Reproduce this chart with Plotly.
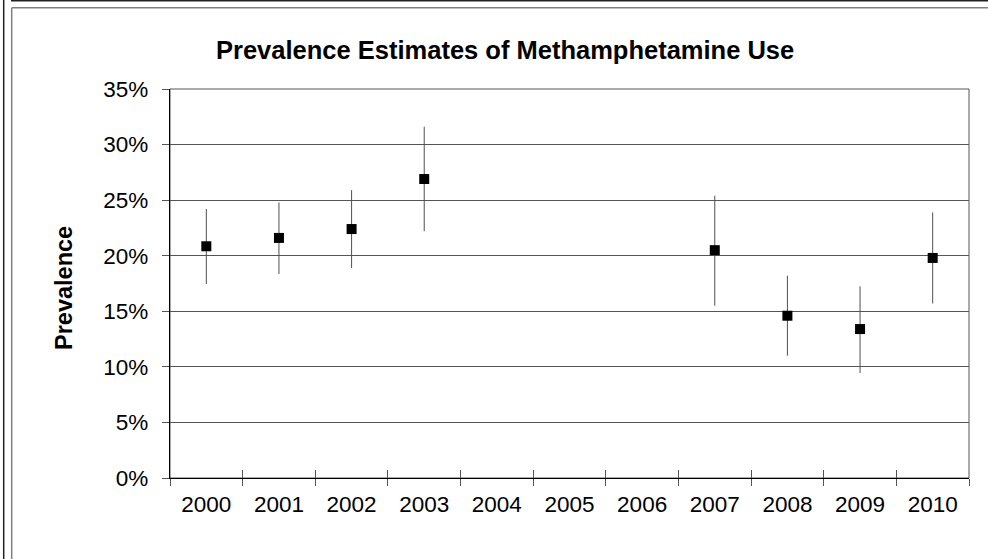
import plotly.graph_objects as go

# ---- data ----
years = ["2000", "2001", "2002", "2003", "2004", "2005", "2006", "2007", "2008", "2009", "2010"]
prevalence = [0.2085, 0.2160, 0.2240, 0.2690, None, None, None, 0.2050, 0.1460, 0.1340, 0.1980]
upper_ci = [0.2420, 0.2480, 0.2590, 0.3160, None, None, None, 0.2540, 0.1820, 0.1725, 0.2390]
lower_ci = [0.1745, 0.1835, 0.1890, 0.2220, None, None, None, 0.1550, 0.1100, 0.0945, 0.1570]
y_ticks = [0, 0.05, 0.10, 0.15, 0.20, 0.25, 0.30, 0.35]

err_plus = [None if v is None else u - v for v, u in zip(prevalence, upper_ci)]
err_minus = [None if v is None else v - l for v, l in zip(prevalence, lower_ci)]

W, H = 988, 559
L, R, T, B = 170, 19, 89, 81
PW, PH = W - L - R, H - T - B

def px(x):
    return (x - L) / PW

def py(y):
    return (H - B - y) / PH

FONT = "Liberation Sans, Arial, sans-serif"

fig = go.Figure()
fig.add_trace(go.Scatter(
    x=years, y=prevalence, mode="markers",
    marker=dict(symbol="square", size=10, color="#000000", line=dict(width=0)),
    error_y=dict(type="data", symmetric=False, array=err_plus, arrayminus=err_minus,
                 thickness=1, width=0, color="#505050"),
    showlegend=False, hoverinfo="x+y",
))
# overlay axis for the inner half of Excel-style cross tick marks
fig.add_trace(go.Scatter(x=[], y=[], xaxis="x2", yaxis="y", showlegend=False, hoverinfo="skip"))

fig.update_layout(
    width=W, height=H,
    margin=dict(l=L, r=R, t=T, b=B, pad=0),
    paper_bgcolor="white", plot_bgcolor="white",
    font=dict(family=FONT, size=22, color="#000000"),
    xaxis=dict(
        type="category", categoryorder="array", categoryarray=years,
        range=[-0.5, len(years) - 0.5],
        showline=True, linecolor="#000000", linewidth=1.3,
        ticks="outside", tickson="boundaries", ticklen=7, tickcolor="#555555", tickwidth=1,
        showgrid=False, zeroline=False,
        tickfont=dict(family=FONT, size=22.5, color="#000000"),
        ticklabelstandoff=6,
        fixedrange=True,
    ),
    xaxis2=dict(
        overlaying="x", anchor="y", side="bottom",
        range=[-0.5, len(years) - 0.5],
        tickmode="array", tickvals=[i - 0.5 for i in range(len(years) + 1)],
        ticks="inside", ticklen=8, tickcolor="#555555", tickwidth=1,
        showticklabels=False, showgrid=False, zeroline=False, showline=False,
        fixedrange=True,
    ),
    yaxis=dict(
        range=[0, 0.35], tickmode="array", tickvals=y_ticks, tickformat=".0%",
        showline=True, linecolor="#000000", linewidth=1.3,
        ticks="outside", ticklen=7, tickcolor="#555555", tickwidth=1,
        showgrid=True, gridcolor="#555555", gridwidth=1,
        zeroline=False,
        tickfont=dict(family=FONT, size=22.5, color="#000000"),
        ticklabelstandoff=9,
        fixedrange=True,
    ),
    shapes=[
        # plot area border (right/top)
        dict(type="rect", xref="paper", yref="paper", x0=0, x1=1, y0=0, y1=1,
             line=dict(color="#555555", width=1), layer="below"),
        # outer dark frame lines
        dict(type="line", xref="paper", yref="paper", x0=px(11), x1=px(988), y0=py(0.8), y1=py(0.8),
             line=dict(color="#222222", width=1.6)),
        dict(type="line", xref="paper", yref="paper", x0=px(3.7), x1=px(3.7), y0=py(0), y1=py(559),
             line=dict(color="#222222", width=1.5)),
        # inner gray frame lines
        dict(type="line", xref="paper", yref="paper", x0=px(11.7), x1=px(988), y0=py(7.8), y1=py(7.8),
             line=dict(color="#808080", width=1.5)),
        dict(type="line", xref="paper", yref="paper", x0=px(11.7), x1=px(11.7), y0=py(7.8), y1=py(559),
             line=dict(color="#808080", width=1.5)),
    ],
    annotations=[
        dict(text="<b>Prevalence Estimates of Methamphetamine Use</b>", xref="paper", yref="paper",
             x=px(505), y=py(50), xanchor="center", yanchor="middle", showarrow=False,
             font=dict(family=FONT, size=25.5, color="#000000")),
        dict(text="<b>Prevalence</b>", xref="paper", yref="paper", textangle=-90,
             x=px(64), y=py(288), xanchor="center", yanchor="middle", showarrow=False,
             font=dict(family=FONT, size=23.5, color="#000000")),
    ],
)

fig.write_html("out.html", config={"displayModeBar": False},
               post_script="document.body.style.margin='0';")
